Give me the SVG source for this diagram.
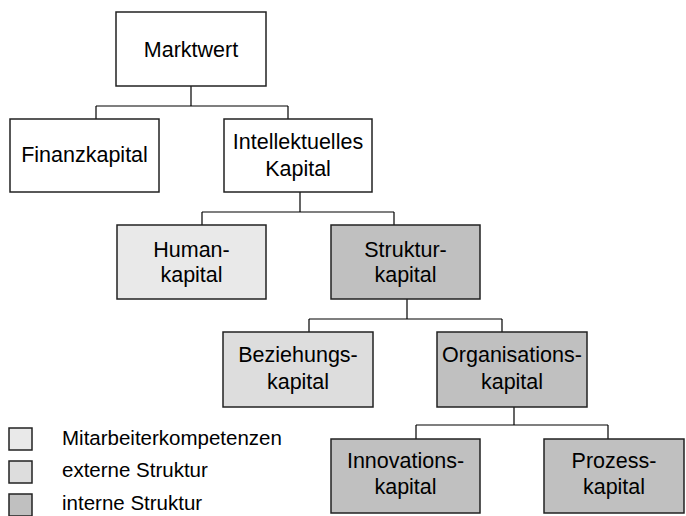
<svg xmlns="http://www.w3.org/2000/svg" width="686" height="516" viewBox="0 0 686 516">
  <style>
    .box { stroke: #222; stroke-width: 1.5; }
    .white { fill: #ffffff; }
    .human { fill: #e9e9e9; }
    .ext { fill: #dddddd; }
    .int { fill: #c0c0c0; }
    .lbl { font-family: "Liberation Sans", Arial, sans-serif; font-size: 21.5px; fill: #000; text-anchor: middle; }
    .leg { font-family: "Liberation Sans", Arial, sans-serif; font-size: 20.5px; fill: #000; }
    .conn { fill: none; stroke: #000; stroke-width: 1.2; }
  </style>

  <g id="connectors">
    <path class="conn" d="M191,86 V106 M96,106 H288 M96,106 V119 M288,106 V119"/>
    <path class="conn" d="M300,192 V212 M202,212 H394 M202,212 V225 M394,212 V225"/>
    <path class="conn" d="M407,299 V319 M309,319 H502 M309,319 V332 M502,319 V332"/>
    <path class="conn" d="M514,407 V425 M416,425 H608 M416,425 V439 M608,425 V439"/>
  </g>

  <g id="marktwert">
    <rect class="box white" x="116" y="12" width="150" height="74"/>
    <text class="lbl" x="191" y="57">Marktwert</text>
  </g>

  <g id="finanzkapital">
    <rect class="box white" x="10" y="119" width="149" height="73"/>
    <text class="lbl" x="84.5" y="162">Finanzkapital</text>
  </g>

  <g id="intellektuelles-kapital">
    <rect class="box white" x="224" y="119" width="148" height="73"/>
    <text class="lbl" x="298" y="149">Intellektuelles</text>
    <text class="lbl" x="298" y="176">Kapital</text>
  </g>

  <g id="humankapital">
    <rect class="box human" x="117" y="225" width="149" height="74"/>
    <text class="lbl" x="191.5" y="257">Human-</text>
    <text class="lbl" x="191.5" y="282">kapital</text>
  </g>

  <g id="strukturkapital">
    <rect class="box int" x="331" y="225" width="149" height="74"/>
    <text class="lbl" x="405.5" y="257">Struktur-</text>
    <text class="lbl" x="405.5" y="282">kapital</text>
  </g>

  <g id="beziehungskapital">
    <rect class="box ext" x="223" y="332" width="150" height="75"/>
    <text class="lbl" x="298" y="362">Beziehungs-</text>
    <text class="lbl" x="298" y="389">kapital</text>
  </g>

  <g id="organisationskapital">
    <rect class="box int" x="437" y="332" width="150" height="75"/>
    <text class="lbl" x="512" y="362">Organisations-</text>
    <text class="lbl" x="512" y="389">kapital</text>
  </g>

  <g id="innovationskapital">
    <rect class="box int" x="331" y="439" width="149" height="74"/>
    <text class="lbl" x="405.5" y="468">Innovations-</text>
    <text class="lbl" x="405.5" y="494">kapital</text>
  </g>

  <g id="prozesskapital">
    <rect class="box int" x="544" y="439" width="140" height="74"/>
    <text class="lbl" x="614" y="468">Prozess-</text>
    <text class="lbl" x="614" y="494">kapital</text>
  </g>

  <g id="legend">
    <rect class="box human" x="9" y="428" width="23" height="22"/>
    <text class="leg" x="62" y="445">Mitarbeiterkompetenzen</text>
    <rect class="box ext" x="9" y="461" width="23" height="22"/>
    <text class="leg" x="62" y="477">externe Struktur</text>
    <rect class="box int" x="9" y="494" width="23" height="22"/>
    <text class="leg" x="62" y="510">interne Struktur</text>
  </g>
</svg>
